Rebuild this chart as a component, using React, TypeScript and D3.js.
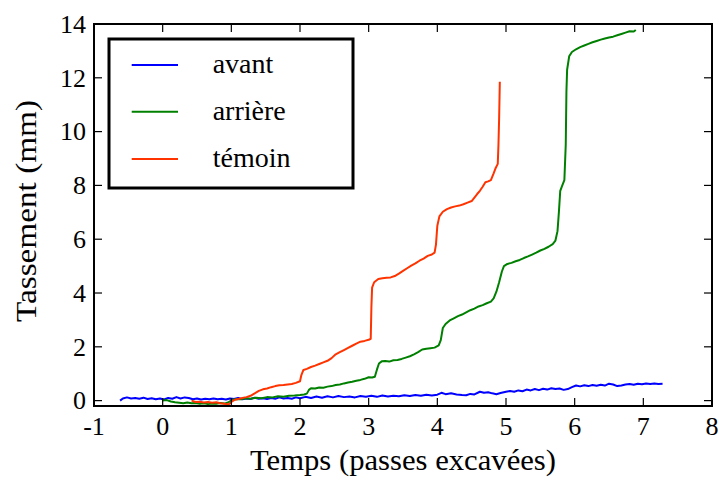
import React from "react";
import * as d3 from "d3";

const xTicks = [-1, 0, 1, 2, 3, 4, 5, 6, 7, 8];
const yTicks = [0, 2, 4, 6, 8, 10, 12, 14];
const seriesNames = ["avant", "arrière", "témoin"];
const seriesColors = ["#0000ff", "#008000", "#ff3300"];

const avant: [number, number][] = [
  [-0.62, 0.0], [-0.58, 0.08], [-0.52, 0.12], [-0.46, 0.08], [-0.4, 0.1], [-0.34, 0.07], [-0.28, 0.11], [-0.22, 0.06],
  [-0.16, 0.09], [-0.1, 0.05], [-0.04, 0.08], [0.02, 0.04], [0.08, 0.1], [0.14, 0.07], [0.2, 0.13], [0.26, 0.08],
  [0.32, 0.12], [0.38, 0.1], [0.44, 0.05], [0.5, 0.08], [0.56, 0.04], [0.62, 0.07], [0.68, 0.05], [0.74, 0.08],
  [0.8, 0.05], [0.86, 0.07], [0.92, 0.04], [0.98, 0.08], [1.04, 0.06], [1.1, 0.1], [1.16, 0.05], [1.22, 0.08],
  [1.28, 0.06], [1.34, 0.11], [1.4, 0.07], [1.46, 0.09], [1.52, 0.06], [1.58, 0.1], [1.64, 0.07], [1.7, 0.12],
  [1.76, 0.08], [1.82, 0.1], [1.88, 0.07], [1.94, 0.12], [2.0, 0.09], [2.08, 0.14], [2.16, 0.1], [2.24, 0.15],
  [2.32, 0.11], [2.4, 0.16], [2.48, 0.12], [2.56, 0.17], [2.64, 0.13], [2.72, 0.15], [2.8, 0.12], [2.88, 0.17],
  [2.96, 0.14], [3.04, 0.18], [3.12, 0.14], [3.2, 0.19], [3.28, 0.15], [3.36, 0.18], [3.44, 0.16], [3.52, 0.2],
  [3.6, 0.17], [3.68, 0.21], [3.76, 0.18], [3.84, 0.22], [3.92, 0.19], [4.0, 0.22], [4.06, 0.29], [4.12, 0.24],
  [4.2, 0.27], [4.28, 0.23], [4.36, 0.21], [4.42, 0.2], [4.48, 0.25], [4.54, 0.23], [4.62, 0.33], [4.68, 0.29],
  [4.74, 0.31], [4.8, 0.27], [4.86, 0.24], [4.92, 0.28], [5.0, 0.33], [5.06, 0.36], [5.12, 0.33], [5.18, 0.38],
  [5.24, 0.35], [5.3, 0.41], [5.36, 0.38], [5.42, 0.43], [5.48, 0.39], [5.54, 0.44], [5.6, 0.41], [5.66, 0.46],
  [5.72, 0.43], [5.78, 0.45], [5.84, 0.4], [5.9, 0.43], [5.96, 0.5], [6.02, 0.56], [6.08, 0.53], [6.14, 0.57],
  [6.2, 0.54], [6.26, 0.58], [6.32, 0.55], [6.38, 0.59], [6.44, 0.56], [6.5, 0.63], [6.56, 0.6], [6.62, 0.54],
  [6.68, 0.56], [6.74, 0.6], [6.8, 0.62], [6.86, 0.59], [6.92, 0.63], [6.98, 0.61], [7.04, 0.64], [7.1, 0.62],
  [7.16, 0.64], [7.22, 0.62], [7.28, 0.63],
];

const arriere: [number, number][] = [
  [0.0, 0.0], [0.06, 0.02], [0.12, -0.03], [0.18, -0.06], [0.24, -0.08], [0.3, -0.1], [0.36, -0.07], [0.42, -0.1],
  [0.48, -0.09], [0.54, -0.12], [0.6, -0.1], [0.66, -0.13], [0.72, -0.11], [0.78, -0.12], [0.84, -0.09], [0.9, -0.11],
  [0.96, -0.06], [1.02, 0.03], [1.08, 0.06], [1.14, 0.05], [1.2, 0.09], [1.28, 0.07], [1.36, 0.11], [1.44, 0.09],
  [1.52, 0.13], [1.6, 0.12], [1.68, 0.16], [1.76, 0.14], [1.84, 0.18], [1.92, 0.19], [2.0, 0.21], [2.06, 0.23],
  [2.1, 0.26], [2.13, 0.4], [2.16, 0.46], [2.22, 0.45], [2.28, 0.49], [2.34, 0.48], [2.4, 0.52], [2.46, 0.54],
  [2.52, 0.58], [2.58, 0.6], [2.64, 0.64], [2.7, 0.67], [2.76, 0.7], [2.82, 0.74], [2.88, 0.77], [2.94, 0.81],
  [3.0, 0.87], [3.05, 0.86], [3.09, 0.89], [3.12, 1.15], [3.15, 1.38], [3.19, 1.46], [3.24, 1.47], [3.3, 1.45],
  [3.36, 1.5], [3.42, 1.51], [3.48, 1.55], [3.54, 1.6], [3.6, 1.65], [3.66, 1.72], [3.72, 1.8], [3.78, 1.9],
  [3.84, 1.93], [3.9, 1.95], [3.96, 1.97], [4.02, 2.05], [4.05, 2.25], [4.08, 2.7], [4.12, 2.85], [4.18, 2.98],
  [4.24, 3.06], [4.3, 3.14], [4.36, 3.2], [4.42, 3.28], [4.48, 3.36], [4.54, 3.42], [4.6, 3.5], [4.66, 3.55],
  [4.72, 3.62], [4.78, 3.68], [4.82, 3.8], [4.86, 4.05], [4.9, 4.4], [4.94, 4.8], [4.97, 5.0], [5.02, 5.08],
  [5.08, 5.12], [5.14, 5.18], [5.2, 5.23], [5.26, 5.3], [5.32, 5.36], [5.38, 5.43], [5.44, 5.5], [5.5, 5.58],
  [5.56, 5.64], [5.62, 5.72], [5.68, 5.82], [5.72, 5.95], [5.75, 6.3], [5.77, 7.0], [5.79, 7.8], [5.82, 8.0],
  [5.85, 8.2], [5.87, 9.5], [5.88, 11.5], [5.89, 12.3], [5.92, 12.8], [5.96, 12.96], [6.02, 13.06], [6.08, 13.14],
  [6.14, 13.2], [6.2, 13.26], [6.26, 13.32], [6.32, 13.37], [6.38, 13.42], [6.44, 13.46], [6.5, 13.5], [6.56, 13.53],
  [6.62, 13.58], [6.68, 13.63], [6.74, 13.68], [6.8, 13.73], [6.86, 13.72], [6.89, 13.78],
];

const temoin: [number, number][] = [
  [0.42, 0.0], [0.48, -0.05], [0.54, -0.04], [0.6, -0.07], [0.66, -0.05], [0.72, -0.08], [0.78, -0.06], [0.84, -0.1],
  [0.9, -0.12], [0.96, -0.14], [1.0, -0.05], [1.04, 0.02], [1.1, 0.06], [1.16, 0.1], [1.22, 0.13], [1.28, 0.18],
  [1.34, 0.27], [1.4, 0.36], [1.46, 0.42], [1.52, 0.45], [1.58, 0.5], [1.64, 0.54], [1.7, 0.57], [1.76, 0.58],
  [1.82, 0.6], [1.88, 0.62], [1.94, 0.66], [2.0, 0.72], [2.02, 0.95], [2.05, 1.14], [2.1, 1.18], [2.16, 1.25],
  [2.22, 1.3], [2.28, 1.36], [2.34, 1.42], [2.4, 1.48], [2.46, 1.58], [2.52, 1.72], [2.58, 1.8], [2.64, 1.88],
  [2.7, 1.96], [2.76, 2.04], [2.82, 2.12], [2.88, 2.19], [2.94, 2.22], [3.0, 2.26], [3.03, 2.3], [3.04, 3.5],
  [3.05, 4.2], [3.08, 4.4], [3.14, 4.52], [3.2, 4.55], [3.26, 4.57], [3.32, 4.58], [3.38, 4.63], [3.44, 4.72],
  [3.5, 4.82], [3.56, 4.92], [3.62, 5.02], [3.68, 5.1], [3.74, 5.2], [3.8, 5.28], [3.86, 5.38], [3.92, 5.43],
  [3.96, 5.5], [3.98, 5.8], [4.0, 6.5], [4.03, 6.85], [4.08, 7.02], [4.14, 7.12], [4.2, 7.18], [4.26, 7.22],
  [4.32, 7.25], [4.38, 7.3], [4.44, 7.36], [4.5, 7.42], [4.54, 7.55], [4.58, 7.68], [4.62, 7.8], [4.66, 7.95],
  [4.7, 8.12], [4.74, 8.15], [4.78, 8.2], [4.82, 8.45], [4.85, 8.65], [4.88, 8.8], [4.89, 9.5], [4.9, 10.5],
  [4.91, 11.85],
];

const W = 719;
const H = 482;
const left = 94;
const right = 712;
const top = 24;
const bottom = 406;
const font = "'Liberation Serif', 'Times New Roman', serif";

export default function App() {
  const x = d3.scaleLinear().domain([-1, 8]).range([left, right]);
  const y = d3.scaleLinear().domain([-0.2, 14]).range([bottom, top]);
  const line = d3
    .line<[number, number]>()
    .x((d) => x(d[0]))
    .y((d) => y(d[1]));
  const data = [avant, arriere, temoin];
  const tickLen = 8;

  const legendX = 109;
  const legendY = 39;
  const legendW = 244;
  const legendH = 149;
  const rowY = [65, 111.7, 159];

  return (
    <svg
      width={W}
      height={H}
      style={{ position: "absolute", left: 0, top: 0, background: "#fff" }}
    >
      <rect x={0} y={0} width={W} height={H} fill="#fff" />
      <defs>
        <clipPath id="plot">
          <rect x={left} y={top} width={right - left} height={bottom - top} />
        </clipPath>
      </defs>
      <g clipPath="url(#plot)">
        {data.map((d, i) => (
          <path
            key={i}
            d={line(d) || ""}
            fill="none"
            stroke={seriesColors[i]}
            strokeWidth={2}
            strokeLinejoin="round"
          />
        ))}
      </g>
      {xTicks.map((t) => (
        <g key={"xt" + t}>
          <line x1={x(t)} x2={x(t)} y1={bottom} y2={bottom - tickLen} stroke="#000" strokeWidth={1.2} />
          <line x1={x(t)} x2={x(t)} y1={top} y2={top + tickLen} stroke="#000" strokeWidth={1.2} />
          <text
            x={x(t)}
            y={435}
            textAnchor="middle"
            fontFamily={font}
            fontSize={26}
            fill="#000"
          >
            {t}
          </text>
        </g>
      ))}
      {yTicks.map((t) => (
        <g key={"yt" + t}>
          <line x1={left} x2={left + tickLen} y1={y(t)} y2={y(t)} stroke="#000" strokeWidth={1.2} />
          <line x1={right} x2={right - tickLen} y1={y(t)} y2={y(t)} stroke="#000" strokeWidth={1.2} />
          <text
            x={86}
            y={y(t)}
            dy="0.34em"
            textAnchor="end"
            fontFamily={font}
            fontSize={26}
            fill="#000"
          >
            {t}
          </text>
        </g>
      ))}
      <rect
        x={left}
        y={top}
        width={right - left}
        height={bottom - top}
        fill="none"
        stroke="#000"
        strokeWidth={2}
      />
      <text
        x={(left + right) / 2}
        y={470}
        textAnchor="middle"
        fontFamily={font}
        fontSize={30}
        textLength={306}
        lengthAdjust="spacingAndGlyphs"
        fill="#000"
      >
        Temps (passes excavées)
      </text>
      <text
        transform={`translate(36, 211) rotate(-90)`}
        textAnchor="middle"
        fontFamily={font}
        fontSize={30}
        textLength={222}
        lengthAdjust="spacingAndGlyphs"
        fill="#000"
      >
        Tassement (mm)
      </text>
      <rect
        x={legendX}
        y={legendY}
        width={legendW}
        height={legendH}
        fill="#fff"
        stroke="#000"
        strokeWidth={3}
      />
      {seriesNames.map((n, i) => (
        <g key={n}>
          <line x1={131.7} x2={178} y1={rowY[i]} y2={rowY[i]} stroke={seriesColors[i]} strokeWidth={2} />
          <text x={212.7} y={rowY[i]} dy="0.3em" fontFamily={font} fontSize={28} fill="#000">
            {n}
          </text>
        </g>
      ))}
    </svg>
  );
}
